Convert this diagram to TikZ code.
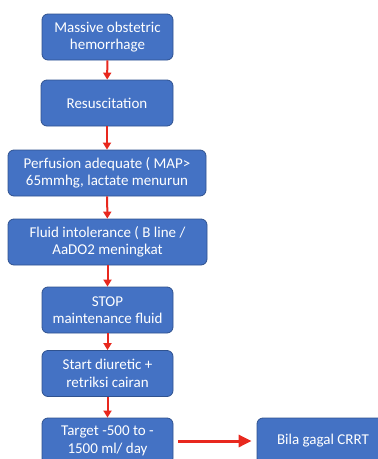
\documentclass[tikz,border=0pt]{standalone}
\usepackage{fontspec}
\setmainfont{Carlito}
\usetikzlibrary{arrows.meta}
\definecolor{boxblue}{HTML}{4472C4}
\definecolor{boxedge}{HTML}{2F528F}
\definecolor{arrowred}{HTML}{E8281E}
\begin{document}
\begin{tikzpicture}[x=1pt, y=1pt,
    stepbox/.style={draw=boxedge, fill=boxblue, rounded corners=6pt, line width=0.8pt,
        text=white, align=center, minimum height=46pt, inner sep=2pt,
        font=\fontsize{15}{17.5}\selectfont},
    flow/.style={draw=arrowred, line width=2pt, -{Triangle[length=7pt, width=8pt]}}]
    \useasboundingbox (0,0) rectangle (378,-459);
    \node[stepbox, minimum width=131pt] (massive) at (107.5,-37) {Massive obstetric\\hemorrhage};
    \node[stepbox, minimum width=132pt] (resus) at (107,-103) {Resuscitation};
    \node[stepbox, minimum width=198pt] (perfusion) at (107,-173) {Perfusion adequate ( MAP>\\65mmhg, lactate menurun};
    \node[stepbox, minimum width=199pt] (intol) at (107.5,-242) {Fluid intolerance ( B line /\\AaDO2 meningkat};
    \node[stepbox, minimum width=131pt] (stop) at (107.5,-310) {STOP\\maintenance fluid};
    \node[stepbox, minimum width=131pt] (diuretic) at (107.5,-373.5) {Start diuretic +\\retriksi cairan};
    \node[stepbox, minimum width=131pt] (target) at (107.5,-441) {Target -500 to -\\1500 ml/ day};
    \node[stepbox, minimum width=132pt] (crrt) at (323,-441) {Bila gagal CRRT};
    \draw[flow] (massive) -- (resus);
    \draw[flow] (resus) -- (perfusion);
    \draw[flow] (perfusion) -- (intol);
    \draw[flow] (intol) -- (stop);
    \draw[flow] (stop) -- (diuretic);
    \draw[flow] (diuretic) -- (target);
    \draw[flow, line width=3pt, -{Triangle[length=13pt, width=12pt]}, shorten <=5pt, shorten >=5pt] (target) -- (crrt);
\end{tikzpicture}
\end{document}
